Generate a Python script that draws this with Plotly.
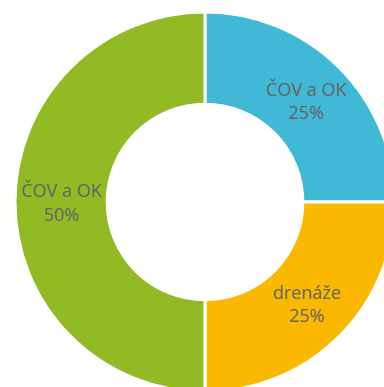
import plotly.graph_objects as go

# Shares of the three source categories (percent)
names = ["ČOV a OK", "drenáže", "ČOV a OK"]
shares = [25, 25, 50]
colors = ["#41B8D5", "#FAB800", "#92BA25"]

fig = go.Figure(
    go.Pie(
        values=shares,
        text=names,
        texttemplate="%{text}<br>%{percent:.0%}",
        textinfo="text+percent",
        textposition="inside",
        insidetextorientation="horizontal",
        hole=0.515,
        sort=False,
        direction="clockwise",
        rotation=0,
        marker=dict(colors=colors, line=dict(color="white", width=3)),
        textfont=dict(family="Open Sans, Lato, sans-serif", size=18, color="#646464"),
        showlegend=False,
    )
)

fig.update_layout(
    width=395,
    height=392,
    margin=dict(l=15, r=0, t=12, b=0),
    paper_bgcolor="white",
    plot_bgcolor="white",
    uniformtext=dict(minsize=18, mode="show"),
)

fig.write_html(
    "out.html",
    post_script="document.body.style.margin='0';document.body.style.overflow='hidden';",
)
